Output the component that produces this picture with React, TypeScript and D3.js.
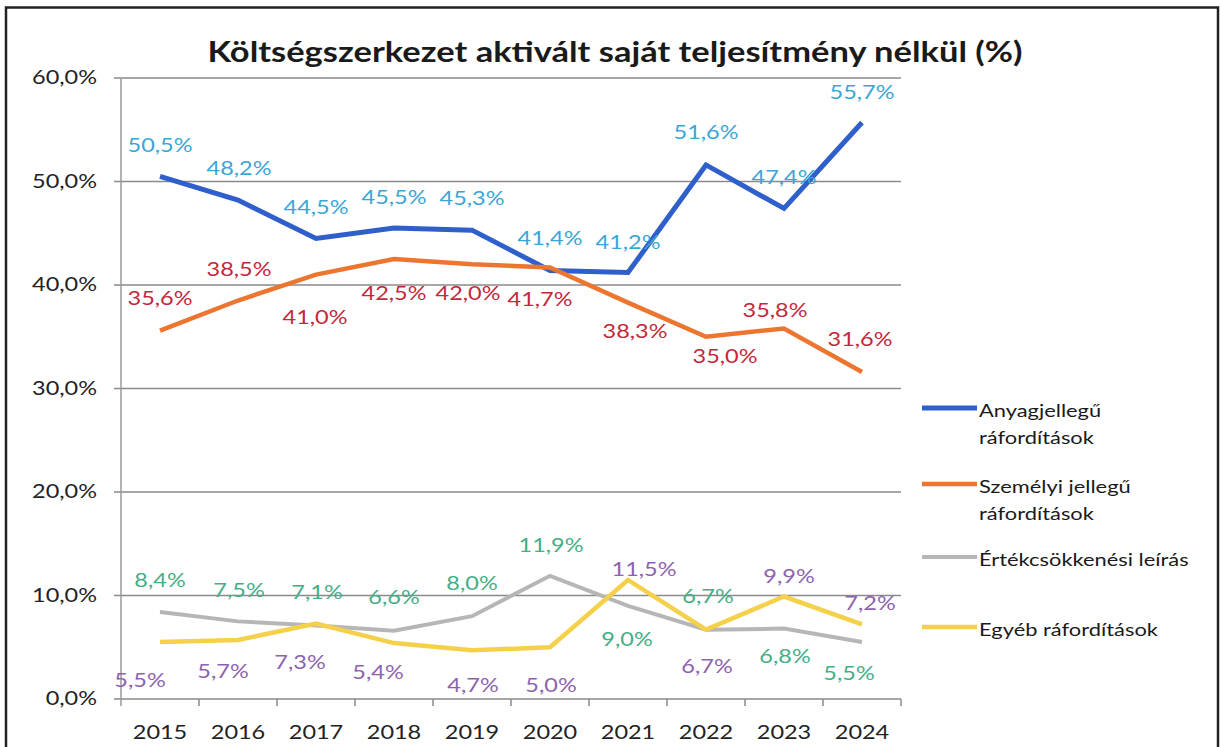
import * as d3 from 'd3';

const years = ['2015', '2016', '2017', '2018', '2019', '2020', '2021', '2022', '2023', '2024'];
const anyag = [50.5, 48.2, 44.5, 45.5, 45.3, 41.4, 41.2, 51.6, 47.4, 55.7];
const szemelyi = [35.6, 38.5, 41.0, 42.5, 42.0, 41.7, 38.3, 35.0, 35.8, 31.6];
const ertekcsokkenes = [8.4, 7.5, 7.1, 6.6, 8.0, 11.9, 9.0, 6.7, 6.8, 5.5];
const egyeb = [5.5, 5.7, 7.3, 5.4, 4.7, 5.0, 11.5, 6.7, 9.9, 7.2];
const yTicks = [0, 10, 20, 30, 40, 50, 60];

// label placement relative to the point, [dx, dy]
const anyagOffsets = [[0, -31], [1, -32], [0, -31], [0, -31], [0, -32], [0, -32], [0, -30], [0, -32], [0, -31], [0, -30]];
const szemelyiOffsets = [[0, -32], [1, -31], [-1, 43], [0, 34], [-4, 29], [-10, 32], [7, 29], [19, 20], [-9, -18], [-2, -32]];
const ertekOffsets = [[0, -32], [1, -31], [1, -33], [0, -33], [0, -33], [1, -30], [-1, 34], [2, -33], [1, 28], [-13, 31]];
const egyebOffsets = [[-20, 38], [-15, 32], [-16, 39], [-16, 29], [1, 35], [1, 38], [16, -10], [1, 37], [5, -20], [8, -21]];

const series = [
  { name: ['Anyagjellegű', 'ráfordítások'], values: anyag, color: '#2f5fcb', labelColor: '#3aa6d6', width: 5, offsets: anyagOffsets },
  { name: ['Személyi jellegű', 'ráfordítások'], values: szemelyi, color: '#ec7630', labelColor: '#c3283a', width: 4.5, offsets: szemelyiOffsets },
  { name: ['Értékcsökkenési leírás'], values: ertekcsokkenes, color: '#b6b6b6', labelColor: '#44ae86', width: 4, offsets: ertekOffsets },
  { name: ['Egyéb ráfordítások'], values: egyeb, color: '#f5d04a', labelColor: '#8e62ae', width: 4.5, offsets: egyebOffsets },
];

const FONT = 'Lato, Carlito, Calibri, sans-serif';
const fmt = (v: number) => v.toFixed(1).replace('.', ',') + '%';

function T({ x, y, sx = 1.27, size = 18.5, anchor = 'middle', fill = '#222', weight = 400, children }: any) {
  return (
    <text
      transform={`translate(${x},${y}) scale(${sx},1)`}
      textAnchor={anchor}
      dy="0.35em"
      fontFamily={FONT}
      fontSize={size}
      fontWeight={weight}
      fill={fill}
    >
      {children}
    </text>
  );
}

export default function App() {
  const W = 1220;
  const H = 747;

  const x = d3.scaleBand<string>().domain(years).range([121, 901]).padding(0);
  const y = d3.scaleLinear().domain([0, 60]).range([699, 78]);
  const cx = (yr: string) => (x(yr) ?? 0) + x.bandwidth() / 2;

  const line = d3.line<number>()
    .x((_, i) => cx(years[i]))
    .y(d => y(d));

  const legendY = [408, 484, 557, 627];

  return (
    <svg width={W} height={H} style={{ position: 'absolute', left: 0, top: 0, background: '#fff' }}>
      <rect x={0} y={0} width={W} height={H} fill="#fff" />
      <rect x={6} y={7.5} width={1212} height={760} fill="none" stroke="#222" strokeWidth={2.5} />

      <text
        x={615}
        y={52}
        dy="0.35em"
        textAnchor="middle"
        fontFamily={FONT}
        fontSize={29}
        fontWeight={700}
        fill="#1a1a1a"
        textLength={815}
        lengthAdjust="spacingAndGlyphs"
      >
        Költségszerkezet aktivált saját teljesítmény nélkül (%)
      </text>

      {/* gridlines */}
      {yTicks.map(t => (
        <line key={t} x1={114} x2={901} y1={y(t)} y2={y(t)} stroke="#8a8a8a" strokeWidth={1.5} />
      ))}
      <line x1={121} x2={121} y1={y(60)} y2={706} stroke="#9a9a9a" strokeWidth={1.5} />
      {years.map(yr => (
        <line key={yr} x1={(x(yr) ?? 0) + x.bandwidth()} x2={(x(yr) ?? 0) + x.bandwidth()} y1={y(0)} y2={706} stroke="#8a8a8a" strokeWidth={1.5} />
      ))}

      {yTicks.map(t => (
        <T key={t} x={97} y={y(t)} anchor="end" fill="#222">{fmt(t)}</T>
      ))}
      {years.map(yr => (
        <T key={yr} x={cx(yr)} y={733} fill="#222">{yr}</T>
      ))}

      {/* lines */}
      {series.map(s => (
        <path key={s.name[0]} d={line(s.values) ?? ''} fill="none" stroke={s.color} strokeWidth={s.width} strokeLinejoin="miter" />
      ))}

      {/* data labels */}
      {series.map(s =>
        s.values.map((v, i) => (
          <T key={s.name[0] + i} x={cx(years[i]) + s.offsets[i][0]} y={y(v) + s.offsets[i][1]} fill={s.labelColor}>
            {fmt(v)}
          </T>
        ))
      )}

      {/* legend */}
      {series.map((s, k) => (
        <g key={'lg' + k}>
          <line x1={922} x2={977} y1={legendY[k]} y2={legendY[k]} stroke={s.color} strokeWidth={s.width} />
          {s.name.map((n, j) => (
            <T key={n + j} x={979} y={legendY[k] + 3 + j * 27} anchor="start" size={17.5} sx={1.25} fill="#1a1a1a">
              {n}
            </T>
          ))}
        </g>
      ))}
    </svg>
  );
}
